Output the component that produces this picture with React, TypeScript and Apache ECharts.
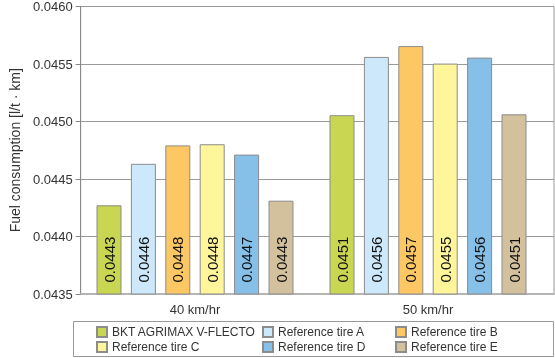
import React, { useEffect, useRef } from "react";
import * as echarts from "echarts";

const categories = ["40 km/hr", "50 km/hr"];
const seriesNames = [
  "BKT AGRIMAX V-FLECTO",
  "Reference tire A",
  "Reference tire B",
  "Reference tire C",
  "Reference tire D",
  "Reference tire E",
];
const bktValues = [0.04427, 0.045052];
const tireAValues = [0.04463, 0.045558];
const tireBValues = [0.04479, 0.045652];
const tireCValues = [0.0448, 0.0455];
const tireDValues = [0.04471, 0.045552];
const tireEValues = [0.04431, 0.04506];
const yTicks = { min: 0.0435, max: 0.046, interval: 0.0005 };

const colors = ["#c8d651", "#cce8fa", "#fdc864", "#fff59b", "#86c0e8", "#d3c09d"];
const FONT = "'Liberation Sans', Arial, Helvetica, sans-serif";

export default function App() {
  const ref = useRef<HTMLDivElement>(null);
  useEffect(() => {
    if (!ref.current) return;
    const chart = echarts.init(ref.current, null, { renderer: "svg" });
    const allValues = [bktValues, tireAValues, tireBValues, tireCValues, tireDValues, tireEValues];
    const legendBase = {
      orient: "vertical",
      top: 326,
      height: 32,
      padding: 0,
      itemWidth: 10,
      itemHeight: 10,
      itemGap: 3,
      icon: "rect",
      selectedMode: false,
      textStyle: { fontSize: 12, color: "#333", fontFamily: FONT },
    };
    chart.setOption({
      animation: false,
      textStyle: { fontFamily: FONT },
      grid: [
        { left: 73, top: 6, width: 481, height: 288, show: true, borderColor: "#999", borderWidth: 1, backgroundColor: "transparent" },
        { left: 78.5, top: 6, width: 466, height: 288 },
      ],
      xAxis: [
        {
          gridIndex: 0,
          type: "category",
          data: categories,
          axisLabel: { show: false },
          axisTick: { show: false },
          axisLine: { show: true, lineStyle: { color: "#b5b5b5", width: 2 } },
          splitLine: { show: false },
        },
        {
          gridIndex: 1,
          type: "category",
          data: categories,
          axisLine: { show: false },
          axisTick: { show: false },
          axisLabel: { fontSize: 13, color: "#333", margin: 9, fontFamily: FONT },
        },
      ],
      yAxis: [
        {
          gridIndex: 0,
          type: "value",
          min: yTicks.min,
          max: yTicks.max,
          interval: yTicks.interval,
          name: "Fuel consumption [l/t · km]",
          nameLocation: "middle",
          nameGap: 56,
          nameTextStyle: { fontSize: 14, color: "#333", fontFamily: FONT },
          axisLine: { show: true, lineStyle: { color: "#888", width: 1 } },
          axisTick: { show: true, length: 5, lineStyle: { color: "#888" } },
          axisLabel: { fontSize: 13, color: "#333", margin: 8, fontFamily: FONT, formatter: (v: number) => v.toFixed(4) },
          splitLine: { show: true, lineStyle: { color: "#9b9b9b", width: 1 } },
        },
        {
          gridIndex: 1,
          type: "value",
          min: yTicks.min,
          max: yTicks.max,
          interval: yTicks.interval,
          show: false,
          splitLine: { show: false },
        },
      ],
      legend: [
        { ...legendBase, left: 96, data: [seriesNames[0], seriesNames[3]] },
        { ...legendBase, left: 262, data: [seriesNames[1], seriesNames[4]] },
        { ...legendBase, left: 395, data: [seriesNames[2], seriesNames[5]] },
      ],
      graphic: [
        {
          type: "rect",
          shape: { x: 73.5, y: 321.5, width: 480, height: 35 },
          style: { fill: "none", stroke: "#999", lineWidth: 1 },
        },
      ],
      series: seriesNames.map((name, i) => ({
        name,
        type: "bar",
        xAxisIndex: 1,
        yAxisIndex: 1,
        data: allValues[i],
        barWidth: 25,
        barGap: "37.6%",
        itemStyle: { color: colors[i], borderColor: "#8c8c8c", borderWidth: 1 },
        label: {
          show: true,
          position: "insideBottom",
          distance: 12,
          rotate: 90,
          align: "left",
          verticalAlign: "middle",
          fontSize: 15,
          color: "#111",
          fontFamily: FONT,
          formatter: (p: any) => Number(p.value).toFixed(4),
        },
      })),
    });
    return () => chart.dispose();
  }, []);
  return <div ref={ref} style={{ position: "fixed", left: 0, top: 0, width: 555, height: 358 }} />;
}
